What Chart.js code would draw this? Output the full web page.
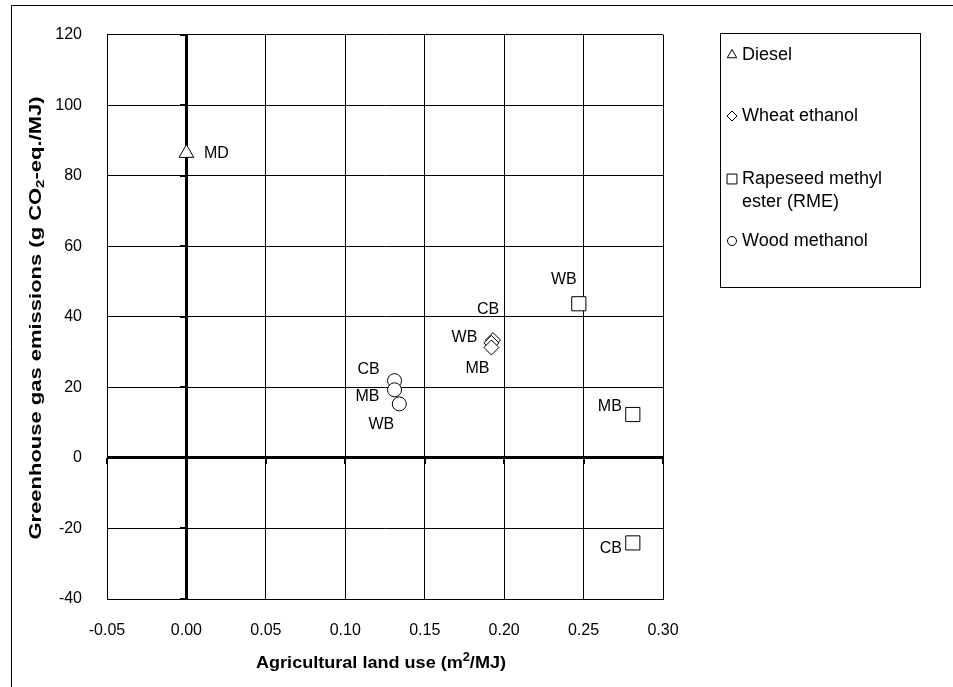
<!DOCTYPE html>
<html>
<head>
<meta charset="utf-8">
<script src="https://cdn.jsdelivr.net/npm/chart.js@4/dist/chart.umd.min.js"></script>
<style>
  html, body { margin: 0; padding: 0; background: #fff; }
  #wrap { width: 953px; height: 687px; position: relative; }
</style>
</head>
<body>
<div id="wrap"><canvas id="c" width="953" height="687"></canvas></div>
<script>
// Fuel pathways: land use (m2/MJ) vs. greenhouse gas emissions (g CO2-eq./MJ)
const seriesNames = ['Diesel', 'Wheat ethanol', 'Rapeseed methyl ester (RME)', 'Wood methanol'];
const legendLines = [['Diesel'], ['Wheat ethanol'], ['Rapeseed methyl', 'ester (RME)'], ['Wood methanol']];

const dieselLand = [0.0];
const dieselGhg  = [86.4];
const dieselTags = ['MD'];

const wheatLand = [0.193, 0.192, 0.192];
const wheatGhg  = [33.4, 32.6, 31.3];
const wheatTags = ['CB', 'WB', 'MB'];

const rmeLand = [0.247, 0.281, 0.281];
const rmeGhg  = [43.7, 12.3, -24.1];
const rmeTags = ['WB', 'MB', 'CB'];

const woodLand = [0.131, 0.131, 0.134];
const woodGhg  = [21.9, 19.3, 15.3];
const woodTags = ['CB', 'MB', 'WB'];

const yTickLabels = ['-40', '-20', '0', '20', '40', '60', '80', '100', '120'];
const xTickLabels = ['-0.05', '0.00', '0.05', '0.10', '0.15', '0.20', '0.25', '0.30'];

// Where each tag sits relative to its marker (text centre, px)
const dieselTagOffsets = [[30, 0]];
const wheatTagOffsets  = [[-5, -30], [-27, -5], [-14, 21]];
const rmeTagOffsets    = [[-15, -24], [-23, -8], [-22, 6]];
const woodTagOffsets   = [[-26, -11], [-27, 7], [-18, 21]];

const FONT = '"Liberation Sans", Arial, Helvetica, sans-serif';

function toPoints(xs, ys) { return xs.map((x, i) => ({ x: x, y: ys[i] })); }

const datasets = [
  { label: seriesNames[0], data: toPoints(dieselLand, dieselGhg), tags: dieselTags, tagOffsets: dieselTagOffsets,
    pointStyle: 'triangle', pointRadius: 8.5, legendRadius: 5.5 },
  { label: seriesNames[1], data: toPoints(wheatLand, wheatGhg), tags: wheatTags, tagOffsets: wheatTagOffsets,
    pointStyle: 'rectRot', pointRadius: 7.5, legendRadius: 5 },
  { label: seriesNames[2], data: toPoints(rmeLand, rmeGhg), tags: rmeTags, tagOffsets: rmeTagOffsets,
    pointStyle: 'rect', pointRadius: 10, legendRadius: 7 },
  { label: seriesNames[3], data: toPoints(woodLand, woodGhg), tags: woodTags, tagOffsets: woodTagOffsets,
    pointStyle: 'circle', pointRadius: 7, legendRadius: 4.5 }
].map(d => Object.assign(d, {
  backgroundColor: '#ffffff', borderColor: '#000000', borderWidth: 1,
  pointBackgroundColor: '#ffffff', pointBorderColor: '#000000', pointBorderWidth: 1,
  pointHoverRadius: d.pointRadius, showLine: false
}));

const isZero = v => Math.abs(v) < 1e-9;

// Outer frame, zero-axis tick marks, axis titles, point tags and the legend box
const decorations = {
  id: 'decorations',
  beforeDraw(chart) {
    const ctx = chart.ctx;
    ctx.save();
    ctx.fillStyle = '#fff';
    ctx.fillRect(0, 0, chart.width, chart.height);
    ctx.strokeStyle = '#000';
    ctx.lineWidth = 1;
    ctx.beginPath();
    ctx.moveTo(11.5, chart.height);
    ctx.lineTo(11.5, 5.5);
    ctx.lineTo(chart.width, 5.5);
    ctx.stroke();
    ctx.restore();
  },
  afterDatasetsDraw(chart) {
    const ctx = chart.ctx;
    const xs = chart.scales.x, ys = chart.scales.y;
    const x0 = Math.round(xs.getPixelForValue(0));
    const y0 = Math.round(ys.getPixelForValue(0));
    ctx.save();
    ctx.strokeStyle = '#000';
    ctx.lineWidth = 2;
    ctx.beginPath();
    ys.ticks.forEach(t => {
      const py = Math.round(ys.getPixelForValue(t.value));
      ctx.moveTo(x0 - 6, py);
      ctx.lineTo(x0, py);
    });
    xs.ticks.forEach(t => {
      const px = Math.round(xs.getPixelForValue(t.value));
      ctx.moveTo(px, y0);
      ctx.lineTo(px, y0 + 6);
    });
    ctx.stroke();

    // tags next to markers
    ctx.fillStyle = '#000';
    ctx.font = '16px ' + FONT;
    ctx.textAlign = 'center';
    ctx.textBaseline = 'middle';
    chart.data.datasets.forEach((ds, di) => {
      const meta = chart.getDatasetMeta(di);
      meta.data.forEach((el, i) => {
        const off = ds.tagOffsets[i];
        ctx.fillText(ds.tags[i], el.x + off[0], el.y + off[1]);
      });
    });
    ctx.restore();
  },
  afterDraw(chart) {
    const ctx = chart.ctx;
    ctx.save();
    ctx.fillStyle = '#000';

    // x-axis title with superscript
    const xParts = [['Agricultural land use (m', 0], ['2', -1], ['/MJ)', 0]];
    drawRichText(ctx, xParts, 381, 663, 0, 17, 250);
    // y-axis title with subscript, drawn tall along its length
    const yParts = [['Greenhouse gas emissions (g CO', 0], ['2', 1], ['-eq./MJ)', 0]];
    drawRichText(ctx, yParts, 37, 318, -Math.PI / 2, 16, 443);

    // legend
    const bx = 720.5, by = 33.5, bw = 200, bh = 254;
    ctx.strokeStyle = '#000';
    ctx.lineWidth = 1;
    ctx.strokeRect(bx, by, bw, bh);
    const rowY = [55, 116, 179, 241];
    ctx.font = '18px ' + FONT;
    ctx.textAlign = 'left';
    ctx.textBaseline = 'middle';
    chart.data.datasets.forEach((ds, i) => {
      ctx.fillStyle = '#fff';
      ctx.strokeStyle = '#000';
      ctx.lineWidth = 1;
      Chart.helpers.drawPoint(ctx, { pointStyle: ds.pointStyle, rotation: 0, radius: ds.legendRadius, borderWidth: 1 }, 732, rowY[i]);
      ctx.fillStyle = '#000';
      legendLines[i].forEach((line, k) => ctx.fillText(line, 742, rowY[i] + k * 23));
    });
    ctx.restore();
  }
};

// Bold title with one raised/lowered "2", centred on (cx, cy), stretched to the given length
function drawRichText(ctx, parts, cx, cy, rot, size, length) {
  const big = 'bold ' + size + 'px ' + FONT, small = 'bold ' + Math.round(size * 0.68) + 'px ' + FONT;
  let total = 0;
  parts.forEach(p => { ctx.font = p[1] ? small : big; total += ctx.measureText(p[0]).width; });
  const stretch = length / total;
  ctx.save();
  ctx.translate(cx, cy);
  ctx.rotate(rot);
  ctx.scale(stretch, 1);
  ctx.textAlign = 'left';
  ctx.textBaseline = 'middle';
  let x = -total / 2;
  parts.forEach(p => {
    ctx.font = p[1] ? small : big;
    const dy = p[1] < 0 ? -size * 0.3 : (p[1] > 0 ? size * 0.25 : 0);
    ctx.fillText(p[0], x, dy);
    x += ctx.measureText(p[0]).width;
  });
  ctx.restore();
}

new Chart(document.getElementById('c'), {
  type: 'scatter',
  data: { datasets: datasets },
  plugins: [decorations],
  options: {
    responsive: false,
    animation: false,
    events: [],
    layout: { padding: { left: 0, top: 33, right: 290, bottom: 0 } },
    plugins: { legend: { display: false }, tooltip: { enabled: false }, title: { display: false } },
    scales: {
      x: {
        type: 'linear', min: -0.05, max: 0.30,
        afterFit(s) { s.height = 88; },
        border: { display: true, color: '#000', width: 1 },
        grid: {
          drawTicks: false,
          color: '#000',
          lineWidth: c => (c.tick && isZero(c.tick.value)) ? 3 : 1
        },
        ticks: {
          stepSize: 0.05, padding: 22, color: '#000', maxRotation: 0, autoSkip: false,
          font: { family: FONT, size: 16 },
          callback: (v, i) => xTickLabels[i]
        }
      },
      y: {
        type: 'linear', min: -40, max: 120,
        afterFit(s) { s.width = 107; },
        border: { display: true, color: '#000', width: 1 },
        grid: {
          drawTicks: false,
          color: '#000',
          lineWidth: c => (c.tick && isZero(c.tick.value)) ? 3 : 1
        },
        ticks: {
          stepSize: 20, padding: 25, color: '#000', autoSkip: false,
          font: { family: FONT, size: 16 },
          callback: (v, i) => yTickLabels[i]
        }
      }
    }
  }
});
</script>
</body>
</html>
